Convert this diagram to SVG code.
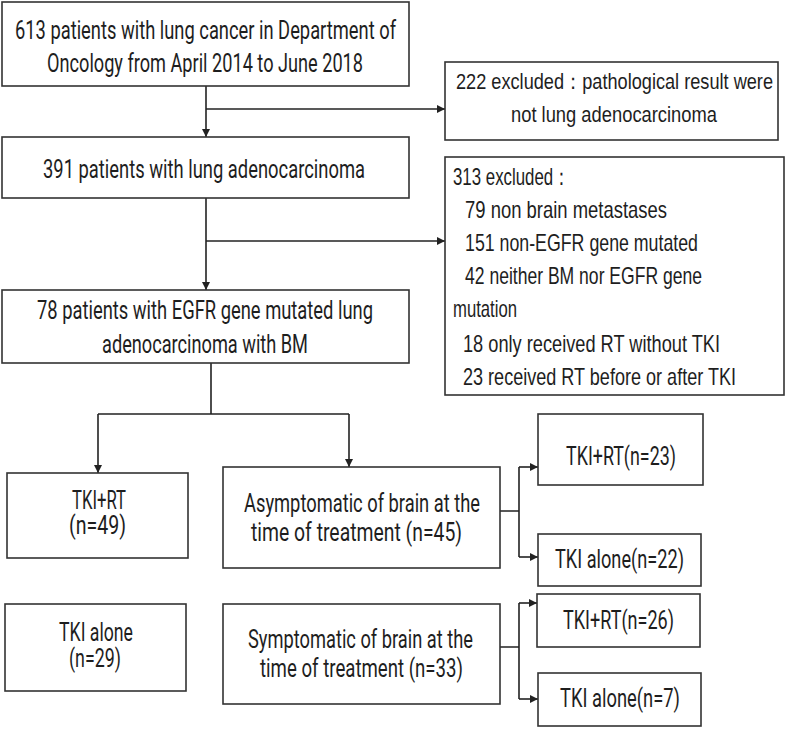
<svg xmlns="http://www.w3.org/2000/svg" width="787" height="729" viewBox="0 0 787 729">
<style>
.box{fill:#fff;stroke:#333;stroke-width:1.6}
.t{font-family:Roboto,"Liberation Sans",sans-serif;font-size:25px;fill:#1e1e1e}
.n{font-family:"Liberation Sans",Arial,sans-serif;font-size:22px;fill:#1e1e1e}
.m{font-family:"Liberation Sans",Arial,sans-serif;font-size:24px;fill:#1e1e1e}
.c{fill:none;stroke:#222;stroke-width:1.6}
</style>
<defs>
<marker id="ah" viewBox="0 0 10 10" refX="10" refY="5" markerWidth="8" markerHeight="8" markerUnits="userSpaceOnUse" orient="auto">
<path d="M0,0 L10,5 L0,10 z" fill="#222"/>
</marker>
</defs>
<rect width="787" height="729" fill="#fff"/>
<g id="connectors">
<path class="c" d="M206,86 V137" marker-end="url(#ah)"/>
<path class="c" d="M206,109 H445" marker-end="url(#ah)"/>
<path class="c" d="M206,198 V290" marker-end="url(#ah)"/>
<path class="c" d="M206,241 H445" marker-end="url(#ah)"/>
<path class="c" d="M211,363 V414 M98,414 H349"/>
<path class="c" d="M98,414 V473" marker-end="url(#ah)"/>
<path class="c" d="M349,414 V467" marker-end="url(#ah)"/>
<path class="c" d="M500,511 H519 M519,467 V557"/>
<path class="c" d="M519,467 H538" marker-end="url(#ah)"/>
<path class="c" d="M519,557 H538" marker-end="url(#ah)"/>
<path class="c" d="M500,647 H519 M519,603 V699"/>
<path class="c" d="M519,603 H537" marker-end="url(#ah)"/>
<path class="c" d="M519,699 H538" marker-end="url(#ah)"/>
</g>
<g id="n1">
<rect class="box" x="2" y="2" width="407" height="84"/>
<text class="t" x="15" y="39" textLength="381" lengthAdjust="spacingAndGlyphs">613 patients with lung cancer in Department of</text>
<text class="t" x="47" y="72" textLength="316" lengthAdjust="spacingAndGlyphs">Oncology from April 2014 to June 2018</text>
</g>
<g id="n2">
<rect class="box" x="445" y="62" width="333" height="78"/>
<text class="n" x="456" y="89" textLength="317" lengthAdjust="spacingAndGlyphs">222 excluded：pathological result were</text>
<text class="n" x="511" y="122" textLength="206" lengthAdjust="spacingAndGlyphs">not lung adenocarcinoma</text>
</g>
<g id="n3">
<rect class="box" x="2" y="137" width="407" height="61"/>
<text class="t" x="43" y="178" textLength="322" lengthAdjust="spacingAndGlyphs">391 patients with lung adenocarcinoma</text>
</g>
<g id="n4">
<rect class="box" x="445" y="157" width="339" height="238"/>
<text class="m" x="453" y="185" textLength="117" lengthAdjust="spacingAndGlyphs">313 excluded：</text>
<text class="m" x="465" y="218" textLength="202" lengthAdjust="spacingAndGlyphs">79 non brain metastases</text>
<text class="m" x="465" y="251" textLength="233" lengthAdjust="spacingAndGlyphs">151 non-EGFR gene mutated</text>
<text class="m" x="465" y="284" textLength="237" lengthAdjust="spacingAndGlyphs">42 neither BM nor EGFR gene</text>
<text class="m" x="453" y="317" textLength="64" lengthAdjust="spacingAndGlyphs">mutation</text>
<text class="m" x="463" y="352" textLength="257" lengthAdjust="spacingAndGlyphs">18 only received RT without TKI</text>
<text class="m" x="463" y="385" textLength="273" lengthAdjust="spacingAndGlyphs">23 received RT before or after TKI</text>
</g>
<g id="n5">
<rect class="box" x="2" y="290" width="407" height="73"/>
<text class="t" x="37" y="319" textLength="336" lengthAdjust="spacingAndGlyphs">78 patients with EGFR gene mutated lung</text>
<text class="t" x="102" y="353" textLength="206" lengthAdjust="spacingAndGlyphs">adenocarcinoma with BM</text>
</g>
<g id="n6">
<rect class="box" x="7" y="473" width="181" height="85"/>
<text class="t" x="72" y="509" textLength="54" lengthAdjust="spacingAndGlyphs">TKI+RT</text>
<text class="t" x="69" y="534" textLength="57" lengthAdjust="spacingAndGlyphs">(n=49)</text>
</g>
<g id="n7">
<rect class="box" x="223" y="467" width="277" height="101"/>
<text class="t" x="244" y="512" textLength="236" lengthAdjust="spacingAndGlyphs">Asymptomatic of brain at the</text>
<text class="t" x="251" y="541" textLength="211" lengthAdjust="spacingAndGlyphs">time of treatment (n=45)</text>
</g>
<g id="n8">
<rect class="box" x="5" y="604" width="181" height="87"/>
<text class="t" x="59" y="641" textLength="74" lengthAdjust="spacingAndGlyphs">TKI alone</text>
<text class="t" x="69" y="667" textLength="52" lengthAdjust="spacingAndGlyphs">(n=29)</text>
</g>
<g id="n9">
<rect class="box" x="223" y="604" width="277" height="100"/>
<text class="t" x="248" y="648" textLength="225" lengthAdjust="spacingAndGlyphs">Symptomatic of brain at the</text>
<text class="t" x="260" y="677" textLength="203" lengthAdjust="spacingAndGlyphs">time of treatment (n=33)</text>
</g>
<g id="n10">
<rect class="box" x="538" y="414" width="165" height="71"/>
<text class="t" x="566" y="465" textLength="110" lengthAdjust="spacingAndGlyphs">TKI+RT(n=23)</text>
</g>
<g id="n11">
<rect class="box" x="538" y="534" width="163" height="52"/>
<text class="t" x="555" y="568" textLength="129" lengthAdjust="spacingAndGlyphs">TKI alone(n=22)</text>
</g>
<g id="n12">
<rect class="box" x="537" y="594" width="163" height="53"/>
<text class="t" x="563" y="629" textLength="111" lengthAdjust="spacingAndGlyphs">TKI+RT(n=26)</text>
</g>
<g id="n13">
<rect class="box" x="538" y="673" width="163" height="53"/>
<text class="t" x="560" y="707" textLength="120" lengthAdjust="spacingAndGlyphs">TKI alone(n=7)</text>
</g>
</svg>
